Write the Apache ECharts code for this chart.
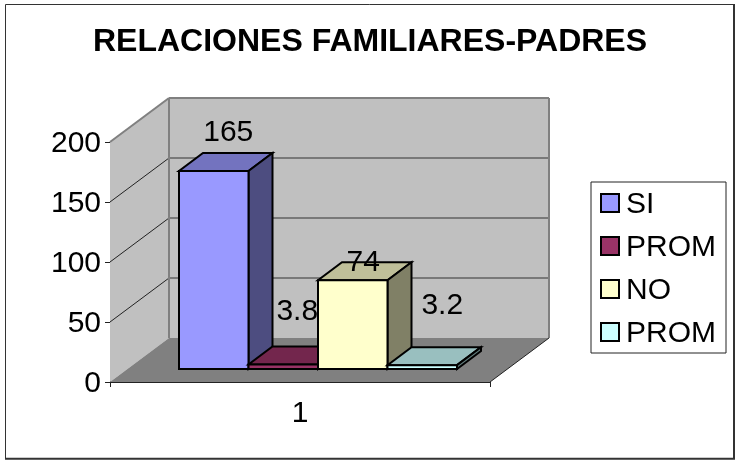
<!DOCTYPE html>
<html><head><meta charset="utf-8">
<style>html,body{margin:0;padding:0;background:#fff}#c{width:737px;height:460px}</style>
<script src="https://cdn.jsdelivr.net/npm/echarts@6/dist/echarts.min.js"></script>
</head><body><div id="c"></div>
<script>
const categories = ['1'];
const seriesNames = ['SI', 'PROM', 'NO', 'PROM'];
const siValues = [165];
const promSiValues = [3.8];
const noValues = [74];
const promNoValues = [3.2];
const valueTicks = [0, 50, 100, 150, 200];

const seriesValues = [siValues, promSiValues, noValues, promNoValues];
const seriesKeys = seriesNames.map((n, i) => n + '#' + i);
const faceColors = ['#9999FF', '#993366', '#FFFFCC', '#CCFFFF'];
const topColors = ['#7373BF', '#73264D', '#BFBF99', '#99BFBF'];
const sideColors = ['#4D4D80', '#4D1A33', '#808066', '#668080'];
const labelOffsets = [[14.5, -38], [14, -53], [10.5, -17], [20, -59]];

const FONT = '"Liberation Sans", Arial, sans-serif';
const WALL_DX = 59, WALL_DY = 44;
const BAR_FRONT_DX = 18, BAR_FRONT_DY = 13;
const BAR_DX = 24, BAR_DY = 18;
const BAR_BAND_FRACTION = 69.5 / 380;

function poly(points, fill, stroke, lineWidth) {
  return { type: 'polygon', shape: { points }, style: { fill, stroke, lineWidth, lineJoin: 'miter' } };
}
function line(a, b, stroke, lineWidth) {
  return { type: 'line', shape: { x1: a[0], y1: a[1], x2: b[0], y2: b[1] }, style: { stroke, lineWidth } };
}

function renderWalls(params, api) {
  const band = api.size([1, 0])[0];
  const cx = api.coord([0, 0])[0];
  const x0 = cx - band / 2, x1 = cx + band / 2;
  const y0 = api.coord([0, 0])[1];
  const yMax = api.coord([0, valueTicks[valueTicks.length - 1]])[1];
  const children = [
    poly([[x0, yMax], [x0 + WALL_DX, yMax - WALL_DY], [x0 + WALL_DX, y0 - WALL_DY], [x0, y0]], '#C0C0C0', null, 0),
    poly([[x0 + WALL_DX, yMax - WALL_DY], [x1 + WALL_DX, yMax - WALL_DY], [x1 + WALL_DX, y0 - WALL_DY], [x0 + WALL_DX, y0 - WALL_DY]], '#C0C0C0', null, 0),
    poly([[x0, y0], [x1, y0], [x1 + WALL_DX, y0 - WALL_DY], [x0 + WALL_DX, y0 - WALL_DY]], '#808080', null, 0)
  ];
  valueTicks.slice(1, -1).forEach(v => {
    const y = api.coord([0, v])[1];
    children.push(line([x0, y], [x0 + WALL_DX, y - WALL_DY], '#222', 1));
    children.push(line([x0 + WALL_DX, y - WALL_DY], [x1 + WALL_DX, y - WALL_DY], '#333', 1));
  });
  children.push(line([x0, yMax], [x0 + WALL_DX, yMax - WALL_DY], '#808080', 2));
  children.push(line([x0 + WALL_DX, yMax - WALL_DY], [x1 + WALL_DX, yMax - WALL_DY], '#808080', 2));
  children.push(line([x0 + WALL_DX, yMax - WALL_DY], [x0 + WALL_DX, y0 - WALL_DY], '#808080', 2));
  children.push(line([x1 + WALL_DX, yMax - WALL_DY], [x1 + WALL_DX, y0 - WALL_DY], '#808080', 2));
  children.push(line([x1 + WALL_DX, y0 - WALL_DY], [x1, y0], '#222', 1));
  return { type: 'group', children };
}

function makeBarRenderer(index) {
  return function (params, api) {
    const band = api.size([1, 0])[0];
    const w = band * BAR_BAND_FRACTION;
    const base = api.coord([0, 0]);
    const top = api.coord([0, api.value(1)]);
    const l = base[0] + BAR_FRONT_DX + (index - seriesValues.length / 2) * w;
    const r = l + w;
    const b = base[1] - BAR_FRONT_DY;
    const t = top[1] - BAR_FRONT_DY;
    const off = labelOffsets[index];
    return {
      type: 'group',
      children: [
        poly([[l, t], [r, t], [r + BAR_DX, t - BAR_DY], [l + BAR_DX, t - BAR_DY]], topColors[index], '#000', 2),
        poly([[r, t], [r + BAR_DX, t - BAR_DY], [r + BAR_DX, b - BAR_DY], [r, b]], sideColors[index], '#000', 2),
        poly([[l, t], [r, t], [r, b], [l, b]], faceColors[index], '#000', 2),
        { type: 'text', z2: 100, style: {
            x: (l + r) / 2 + off[0], y: t + off[1],
            text: String(api.value(1)), fill: '#000', font: '30px ' + FONT,
            textAlign: 'center', textVerticalAlign: 'middle' } }
      ]
    };
  };
}

const richText = { t: { fontFamily: FONT, fontSize: 30, color: '#000', padding: [4, 0, 0, 0] } };
const legendRichText = { t: { fontFamily: FONT, fontSize: 30, color: '#000', padding: [4, 0, 0, 2] } };

const chart = echarts.init(document.getElementById('c'), null, { renderer: 'canvas' });
chart.setOption({
  animation: false,
  backgroundColor: '#fff',
  title: {
    text: 'RELACIONES FAMILIARES-PADRES', left: 365, top: 21, textAlign: 'center',
    textStyle: { fontFamily: FONT, fontWeight: 'bold', fontSize: 32, color: '#000' }
  },
  graphic: [
    { type: 'rect', silent: true, z: -10,
      shape: { x: 5.5, y: 4.5, width: 728.5, height: 454 },
      style: { fill: '#fff', stroke: '#333', lineWidth: 1 } },
    { type: 'polyline', silent: true, z: -9,
      shape: { points: [[734, 4], [734, 458.7], [5, 458.7]] },
      style: { fill: null, stroke: '#333', lineWidth: 2 } }
  ],
  legend: {
    orient: 'vertical', left: 591, top: 182, selectedMode: false,
    padding: [8, 10, 4, 9], itemGap: 13, itemWidth: 18, itemHeight: 18,
    backgroundColor: '#fff', borderColor: '#222', borderWidth: 1,
    textStyle: { fontFamily: FONT, fontSize: 30, color: '#000', rich: legendRichText },
    formatter: key => '{t|' + key.split('#')[0] + '}',
    data: seriesKeys.map((name, i) => ({
      name, icon: 'rect',
      itemStyle: { color: faceColors[i], borderColor: '#000', borderWidth: 2 }
    }))
  },
  grid: { left: 110, top: 142, width: 380, height: 240 },
  xAxis: {
    type: 'category', data: categories,
    axisLine: { lineStyle: { color: '#222', width: 1 } },
    axisTick: { show: true, length: 5, lineStyle: { color: '#222' } },
    axisLabel: { fontFamily: FONT, fontSize: 30, color: '#000', margin: 17 }
  },
  yAxis: {
    type: 'value', min: 0, max: 200, interval: 50,
    splitLine: { show: false },
    axisLine: { show: true, lineStyle: { color: '#222', width: 1 } },
    axisTick: { show: true, length: 5, lineStyle: { color: '#222' } },
    axisLabel: { margin: 9, formatter: '{t|{value}}', rich: richText }
  },
  series: [
    { type: 'custom', name: 'walls', renderItem: renderWalls, data: [[0, 200]], clip: false, z: 1, silent: true, encode: { x: 0, y: 1 } }
  ].concat(seriesValues.map((vals, i) => ({
    type: 'custom', name: seriesKeys[i], renderItem: makeBarRenderer(i), clip: false, z: 3 + i, silent: true,
    itemStyle: { color: faceColors[i] }, encode: { x: 0, y: 1 },
    data: vals.map((v, k) => [k, v])
  })))
});
</script></body></html>
